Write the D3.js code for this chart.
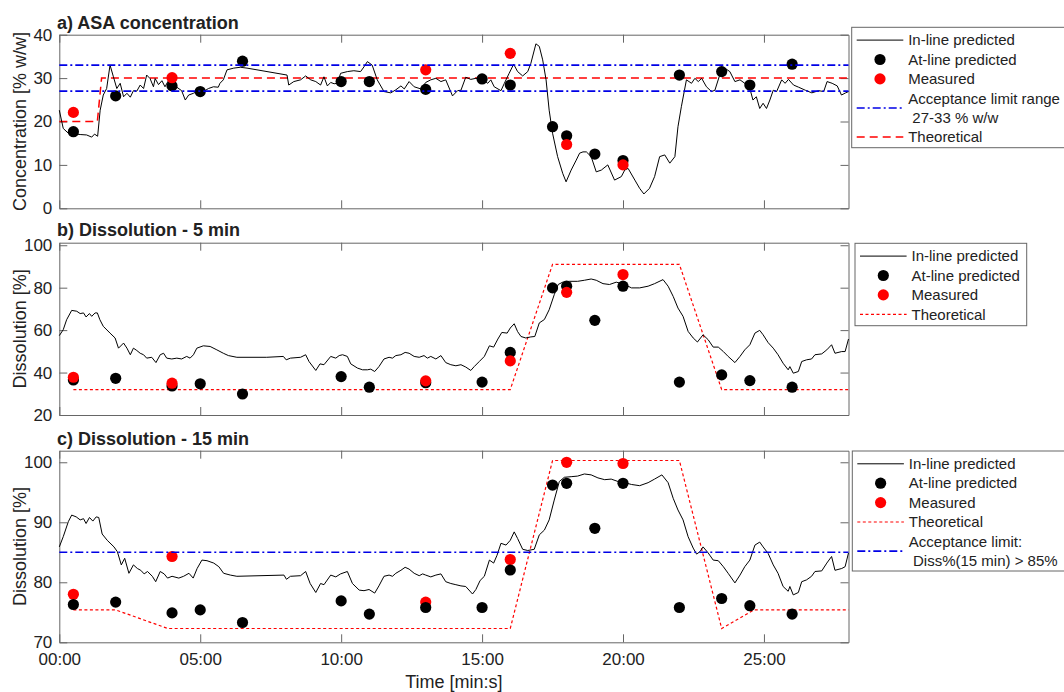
<!DOCTYPE html>
<html>
<head>
<meta charset="utf-8">
<script src="https://cdn.jsdelivr.net/npm/d3@7"></script>
<style>
  body { margin: 0; background: #fff; }
  svg text { font-family: "Liberation Sans", Arial, sans-serif; fill: #222; white-space: pre; }
</style>
</head>
<body>
<svg id="chart" width="1064" height="692"></svg>
<script>
// ---- time axis (minutes) ----
const timeTicks = [0, 5, 10, 15, 20, 25];

// sampling times of the at-line predictions and of the reference measurements (min)
const atTimes   = [0.5, 2, 4, 5, 6.5, 10, 11, 13, 15, 16, 17.5, 18, 19, 20, 22, 23.5, 24.5, 26];
const measTimes = [0.5, 4, 13, 16, 18, 20];

// ---- a) ASA concentration [% w/w] ----
const inlineA = [[0,22.6],[0.14,18.4],[0.32,17.3],[0.74,17.0],[0.97,16.9],[1.15,16.4],[1.25,17.1],[1.36,16.6],[1.45,22.6],[1.56,26.1],[1.68,27.6],[1.8,33.0],[1.92,30.3],[2.04,27.6],[2.16,28.8],[2.28,25.7],[2.4,26.5],[2.52,25.6],[2.63,27.1],[2.75,27.0],[2.87,28.4],[2.99,27.6],[3.1,30.7],[3.22,29.9],[3.34,28.0],[3.4,29.9],[3.52,28.5],[3.64,29.4],[3.75,28.0],[3.87,29.4],[3.99,28.8],[4.17,27.9],[4.34,27.1],[4.47,24.95],[4.59,26.1],[4.76,26.5],[4.88,26.9],[5.0,26.9],[5.17,27.1],[5.29,27.6],[5.47,28.0],[5.64,27.9],[5.7,28.8],[5.82,29.6],[5.95,31.9],[6.19,32.3],[6.42,32.5],[6.66,32.3],[8.08,30.7],[8.14,28.4],[8.32,29.2],[8.56,29.6],[8.74,30.5],[8.92,29.6],[9.1,29.2],[9.27,28.4],[9.39,30.3],[9.51,28.2],[9.63,29.0],[9.75,28.7],[9.87,28.8],[9.98,31.1],[10.22,31.5],[10.45,31.7],[10.69,31.5],[10.81,32.6],[10.93,33.8],[11.1,33.0],[11.28,29.6],[11.52,26.9],[11.76,26.6],[11.94,27.3],[12.12,28.2],[12.24,27.5],[12.41,29.2],[12.59,28.0],[12.83,27.5],[13.0,29.0],[13.18,29.6],[13.36,29.95],[13.54,29.2],[13.71,29.6],[13.95,25.9],[14.13,27.1],[14.25,27.2],[14.42,30.2],[14.6,29.7],[14.78,29.95],[15.02,29.7],[15.2,28.8],[15.31,29.6],[15.43,28.0],[15.67,27.1],[15.79,28.8],[15.96,31.1],[16.12,33.2],[16.26,31.5],[16.44,30.5],[16.62,31.5],[16.73,33.4],[16.91,37.9],[17.03,37.3],[17.15,34.2],[17.27,29.6],[17.38,22.6],[17.5,17.3],[17.68,11.9],[17.86,8.06],[17.98,6.1],[18.16,8.8],[18.34,11.1],[18.46,12.7],[18.58,13.0],[18.7,13.0],[18.87,11.9],[19.05,8.4],[19.23,8.8],[19.46,10.0],[19.7,6.5],[19.94,7.3],[20.06,8.8],[20.18,9.2],[20.42,6.5],[20.59,4.6],[20.74,3.3],[20.94,4.6],[21.12,7.3],[21.3,11.9],[21.48,12.3],[21.66,10.4],[21.84,11.9],[21.95,18.8],[22.07,23.4],[22.25,29.6],[22.43,28.8],[22.55,29.95],[22.67,29.2],[22.79,29.95],[22.96,28.0],[23.14,26.9],[23.26,27.2],[23.43,30.7],[23.61,32.3],[23.79,31.5],[23.97,29.2],[24.15,29.6],[24.32,28.8],[24.5,27.6],[24.61,24.95],[24.73,25.7],[24.85,23.0],[24.97,24.2],[25.09,23.0],[25.21,24.95],[25.33,27.2],[25.45,26.9],[25.63,29.6],[25.75,28.8],[25.87,29.7],[26.05,28.4],[26.23,27.9],[26.47,27.2],[26.7,26.6],[26.94,27.1],[27.12,26.9],[27.24,29.2],[27.42,28.8],[27.6,28.2],[27.75,26.1],[27.9,26.6],[28.0,26.9]];
const atA   = [17.65, 25.9, 28.2, 26.9, 33.9, 29.2, 29.2, 27.4, 29.8, 28.4, 18.8, 16.7, 12.5, 11.0, 30.7, 31.5, 28.4, 33.2];
const measA = [22.1, 30.1, 31.9, 35.7, 14.7, 10.0];
const theoA = [[0,20],[1.35,20],[1.5,30],[28,30]];
const limitsA = [27, 33];

// ---- b) Dissolution after 5 min [%] ----
const inlineB = [[0,57.4],[0.14,60.2],[0.26,64.9],[0.44,69.3],[0.62,68.9],[0.74,67.8],[0.86,68.1],[0.95,66.2],[1.07,67.8],[1.15,66.5],[1.27,68.1],[1.35,68.1],[1.44,64.9],[1.56,61.8],[1.8,58.6],[1.98,56.3],[2.1,51.5],[2.28,53.9],[2.4,51.5],[2.52,48.4],[2.63,51.5],[2.75,50.4],[2.87,49.1],[2.99,48.4],[3.1,46.8],[3.28,47.2],[3.43,44.7],[3.58,48.4],[3.7,49.1],[3.81,46.8],[3.99,46.4],[4.17,46.8],[4.34,46.4],[4.52,47.6],[4.64,46.8],[4.76,48.4],[4.88,51.5],[5.11,52.6],[5.35,52.3],[5.59,50.7],[5.82,49.1],[6.0,48.0],[6.3,47.2],[7.36,47.2],[7.95,47.6],[8.05,46.0],[8.2,46.8],[8.56,47.2],[8.74,48.4],[8.86,45.2],[9.1,41.0],[9.25,44.1],[9.39,43.7],[9.63,47.6],[9.81,46.8],[9.93,48.0],[10.05,48.4],[10.22,47.6],[10.34,44.1],[10.58,42.1],[10.76,41.3],[10.93,41.3],[11.05,41.6],[11.19,40.5],[11.34,42.8],[11.52,46.4],[11.7,47.2],[11.82,46.8],[11.94,48.0],[12.12,48.4],[12.27,49.5],[12.41,49.1],[12.59,47.6],[12.77,47.2],[12.94,48.0],[13.06,46.8],[13.18,47.6],[13.36,46.4],[13.54,48.0],[13.71,44.7],[13.89,43.7],[14.07,43.2],[14.25,43.7],[14.42,42.6],[14.6,41.0],[14.72,42.8],[14.9,45.2],[15.08,47.6],[15.26,52.6],[15.41,52.0],[15.56,55.8],[15.7,58.9],[15.89,58.6],[16.0,61.0],[16.14,63.0],[16.26,59.3],[16.38,57.0],[16.55,56.3],[16.73,56.8],[16.87,57.0],[17.03,63.4],[17.21,65.0],[17.38,69.6],[17.56,76.7],[17.7,81.5],[17.86,82.6],[18.1,83.0],[18.39,83.0],[18.63,83.5],[18.87,84.1],[19.05,83.5],[19.29,81.9],[19.52,81.5],[19.76,82.6],[20.06,81.5],[20.3,79.9],[20.59,79.9],[20.89,80.7],[21.12,81.9],[21.42,83.8],[21.6,80.7],[21.78,75.9],[21.95,70.4],[22.13,66.5],[22.31,59.4],[22.49,56.3],[22.64,54.4],[22.84,57.8],[23.02,55.5],[23.2,52.0],[23.38,52.0],[23.56,49.9],[23.73,47.6],[23.97,44.7],[24.15,47.6],[24.32,50.7],[24.5,53.1],[24.68,58.6],[24.85,59.9],[24.97,57.8],[25.15,54.1],[25.33,51.5],[25.5,48.4],[25.68,44.4],[25.86,41.3],[25.92,42.8],[26.04,39.7],[26.22,40.5],[26.34,45.2],[26.51,46.0],[26.69,46.4],[26.81,48.4],[27.05,48.8],[27.23,50.7],[27.4,53.1],[27.52,49.1],[27.76,49.9],[27.88,49.9],[28.0,55.8]];
const atB   = [36.5, 37.3, 33.7, 34.7, 29.9, 38.1, 33.1, 35.2, 35.5, 49.5, 79.9, 80.7, 64.6, 80.7, 35.5, 38.9, 36.2, 33.1];
const measB = [37.8, 35.0, 36.1, 45.5, 77.8, 86.2];
const theoB = [[0.5,32],[16,32],[17.5,91],[22,91],[23.5,32],[28,32]];

// ---- c) Dissolution after 15 min [%] ----
const inlineC = [[0,85.9],[0.14,87.6],[0.32,90.1],[0.44,91.2],[0.6,90.9],[0.74,90.4],[0.86,90.6],[0.95,89.8],[1.07,90.8],[1.19,90.2],[1.31,90.9],[1.4,90.8],[1.52,88.05],[1.7,87.0],[1.94,85.9],[2.06,85.1],[2.2,82.9],[2.32,84.0],[2.47,81.5],[2.63,82.9],[2.77,82.3],[2.89,82.0],[3.01,81.4],[3.13,81.8],[3.3,81.0],[3.42,80.1],[3.58,81.8],[3.72,81.4],[3.84,80.7],[4.0,81.0],[4.24,80.7],[4.41,81.0],[4.6,81.5],[4.75,80.7],[4.89,82.3],[5.06,83.7],[5.24,83.6],[5.48,83.2],[5.66,82.6],[5.83,81.5],[6.07,81.2],[6.3,81.0],[7.97,81.2],[8.06,80.5],[8.2,81.0],[8.56,81.1],[8.74,81.8],[8.9,79.8],[9.1,78.3],[9.27,79.8],[9.39,79.6],[9.63,81.2],[9.81,80.9],[9.98,81.4],[10.22,81.8],[10.4,79.8],[10.64,78.7],[10.81,78.6],[10.99,78.8],[11.19,78.2],[11.34,79.4],[11.52,81.0],[11.7,81.2],[11.82,81.0],[11.94,81.5],[12.12,82.0],[12.27,82.5],[12.41,82.2],[12.59,81.5],[12.77,81.1],[12.89,81.4],[13.0,81.2],[13.18,80.9],[13.36,81.2],[13.54,81.4],[13.71,80.1],[13.89,79.8],[14.07,79.6],[14.25,79.4],[14.42,79.3],[14.66,78.05],[14.78,78.8],[14.93,80.3],[15.08,81.0],[15.26,83.7],[15.41,83.2],[15.53,84.5],[15.67,86.5],[15.85,86.2],[16.0,87.0],[16.14,88.4],[16.26,87.3],[16.44,85.5],[16.62,85.3],[16.85,85.5],[17.03,87.9],[17.21,88.7],[17.38,90.4],[17.56,93.7],[17.74,96.8],[17.92,97.5],[18.16,97.6],[18.39,97.7],[18.63,98.05],[18.87,97.9],[19.11,97.4],[19.35,97.1],[19.58,97.2],[19.82,96.8],[20.06,96.6],[20.3,96.3],[20.59,96.1],[20.89,96.6],[21.12,97.2],[21.38,97.9],[21.6,96.6],[21.78,94.0],[21.95,92.05],[22.13,90.4],[22.31,87.6],[22.49,85.7],[22.61,84.7],[22.73,85.1],[22.84,85.9],[23.02,84.9],[23.2,83.7],[23.38,83.6],[23.56,82.6],[23.73,81.5],[23.97,79.9],[24.15,81.2],[24.32,82.6],[24.5,83.7],[24.68,86.2],[24.85,86.7],[24.97,85.9],[25.15,84.8],[25.33,82.9],[25.5,81.5],[25.68,79.3],[25.86,78.5],[25.92,79.3],[26.04,77.9],[26.22,78.3],[26.34,80.1],[26.51,80.4],[26.69,81.0],[26.81,81.8],[27.05,81.9],[27.23,83.2],[27.4,84.3],[27.52,82.0],[27.76,82.3],[27.88,82.6],[28.0,84.9]];
const atC   = [76.3, 76.7, 74.9, 75.4, 73.3, 76.9, 74.7, 75.8, 75.8, 82.05, 96.2, 96.5, 89.0, 96.5, 75.8, 77.3, 76.1, 74.7];
const measC = [78.0, 84.3, 76.7, 83.8, 100.0, 99.8];
const theoC = [[0.5,75.4],[2,75.4],[3.85,72.3],[16,72.3],[17.5,100.3],[22,100.3],[23.5,72.3],[24.65,75.4],[28,75.4]];
const limitsC = [85];

// ---- styles ----
const COL_BLUE = "#0000e6", COL_RED = "#ff0000", COL_AXIS = "#666";
const styleLimit = { stroke: COL_BLUE, width: 1.6, dash: "8,3,2,3" };
const styleTheoA = { stroke: COL_RED, width: 1.5, dash: "8,5" };
const styleTheoBC = { stroke: COL_RED, width: 1.2, dash: "3,2.5" };
const DOT_R = 5.6;

const svg = d3.select("#chart");
const x = d3.scaleLinear().domain([0, 28]).range([59.3, 848.5]);
const fmtTime = m => {
  const mm = Math.floor(m), ss = Math.round((m - mm) * 60);
  return String(mm).padStart(2, "0") + ":" + String(ss).padStart(2, "0");
};

const panels = [
  { title: "a) ASA concentration", ylabel: "Concentration [% w/w]", domain: [0, 40], range: [208.3, 34.7],
    yticks: [0, 10, 20, 30, 40], inline: inlineA, at: atA, meas: measA, theo: theoA, theoStyle: styleTheoA,
    limits: limitsA, redOnTop: true, titleY: 28.5,
    legend: { x: 851.7, y: 27.3, w: 230, h: 120.4, items: [
      { type: "line", label: ["In-line predicted"] },
      { type: "dot", color: "#000", label: ["At-line predicted"] },
      { type: "dot", color: COL_RED, label: ["Measured"] },
      { type: "limit", label: ["Acceptance limit range", " 27-33 % w/w"] },
      { type: "theo", label: ["Theoretical"] } ] } },
  { title: "b) Dissolution - 5 min", ylabel: "Dissolution [%]", domain: [20, 101.2], range: [415, 242.7],
    yticks: [20, 40, 60, 80, 100], inline: inlineB, at: atB, meas: measB, theo: theoB, theoStyle: styleTheoBC,
    limits: [], redOnTop: true, titleY: 236.3,
    legend: { x: 855, y: 243.3, w: 171.7, h: 82.4, items: [
      { type: "line", label: ["In-line predicted"] },
      { type: "dot", color: "#000", label: ["At-line predicted"] },
      { type: "dot", color: COL_RED, label: ["Measured"] },
      { type: "theo", label: ["Theoretical"] } ] } },
  { title: "c) Dissolution - 15 min", ylabel: "Dissolution [%]", domain: [70, 101.93], range: [642.3, 450.7],
    yticks: [70, 80, 90, 100], inline: inlineC, at: atC, meas: measC, theo: theoC, theoStyle: styleTheoBC,
    limits: limitsC, redOnTop: false, titleY: 445, xlabels: true,
    legend: { x: 852.3, y: 451, w: 230, h: 120, items: [
      { type: "line", label: ["In-line predicted"] },
      { type: "dot", color: "#000", label: ["At-line predicted"] },
      { type: "dot", color: COL_RED, label: ["Measured"] },
      { type: "theo", label: ["Theoretical"] },
      { type: "limit", label: ["Acceptance limit:", " Diss%(15 min) > 85%"] } ] } }
];

function styled(sel, st) {
  return sel.attr("fill", "none").attr("stroke", st.stroke).attr("stroke-width", st.width)
            .attr("stroke-dasharray", st.dash);
}

panels.forEach(p => {
  const y = d3.scaleLinear().domain(p.domain).range(p.range);
  const [x0, x1] = x.range();
  const [yb, yt] = y.range();
  const g = svg.append("g");

  // axes with inward ticks on all four sides
  const styleAxis = a => {
    a.select(".domain").attr("stroke", COL_AXIS);
    a.selectAll(".tick line").attr("stroke", COL_AXIS);
    a.selectAll("text").attr("fill", "#222").style("font-size", "17px")
      .style("font-family", '"Liberation Sans", Arial, sans-serif');
  };
  g.append("g").attr("transform", `translate(${x0},0)`)
    .call(d3.axisLeft(y).tickValues(p.yticks).tickSize(-8).tickSizeOuter(0).tickPadding(7)).call(styleAxis);
  g.append("g").attr("transform", `translate(${x1},0)`)
    .call(d3.axisRight(y).tickValues(p.yticks).tickSize(-8).tickSizeOuter(0).tickFormat("")).call(styleAxis);
  g.append("g").attr("transform", `translate(0,${yt})`)
    .call(d3.axisTop(x).tickValues(timeTicks).tickSize(-8).tickSizeOuter(0).tickFormat("")).call(styleAxis);
  g.append("g").attr("transform", `translate(0,${yb})`)
    .call(d3.axisBottom(x).tickValues(timeTicks).tickSize(-8).tickSizeOuter(0).tickPadding(11)
      .tickFormat(p.xlabels ? fmtTime : "")).call(styleAxis);

  // title and y label
  g.append("text").attr("x", 57).attr("y", p.titleY).style("font-size", "18px")
    .style("font-weight", "bold").text(p.title);
  g.append("text").attr("transform", `translate(26,${(yb + yt) / 2}) rotate(-90)`)
    .attr("text-anchor", "middle").style("font-size", "18px").text(p.ylabel);

  const line = d3.line().x(d => x(d[0])).y(d => y(d[1]));

  // theoretical profile
  styled(g.append("path").attr("d", line(p.theo)), p.theoStyle);

  // in-line prediction
  g.append("path").attr("d", line(p.inline)).attr("fill", "none")
    .attr("stroke", "#000").attr("stroke-width", 1).attr("stroke-linejoin", "round");

  // at-line predictions and measurements
  const drawDots = (vals, times, color) =>
    g.append("g").selectAll("circle").data(vals).join("circle")
      .attr("cx", (d, i) => x(times[i])).attr("cy", d => y(d)).attr("r", DOT_R).attr("fill", color);
  if (p.redOnTop) { drawDots(p.at, atTimes, "#000"); drawDots(p.meas, measTimes, COL_RED); }
  else { drawDots(p.meas, measTimes, COL_RED); drawDots(p.at, atTimes, "#000"); }

  // acceptance limits
  p.limits.forEach(v => {
    styled(g.append("line").attr("x1", x0).attr("x2", x1).attr("y1", y(v)).attr("y2", y(v)), styleLimit);
  });

  // legend
  const L = p.legend;
  const lg = svg.append("g");
  lg.append("rect").attr("x", L.x).attr("y", L.y).attr("width", L.w).attr("height", L.h)
    .attr("fill", "#fff").attr("stroke", COL_AXIS).attr("stroke-width", 1);
  const step = 19.4;
  let row = 0;
  L.items.forEach(it => {
    const cy0 = L.y + 12.8 + row * step;
    const cy = cy0 + (it.label.length - 1) * step / 2;
    const sx0 = L.x + 5, sx1 = L.x + 51.6, mx = L.x + 28.3;
    if (it.type === "dot") {
      lg.append("circle").attr("cx", mx).attr("cy", cy).attr("r", DOT_R).attr("fill", it.color);
    } else {
      const ln = lg.append("line").attr("x1", sx0).attr("x2", sx1).attr("y1", cy).attr("y2", cy);
      if (it.type === "line") ln.attr("stroke", "#000").attr("stroke-width", 1);
      else if (it.type === "limit") styled(ln, styleLimit);
      else styled(ln, p.theoStyle);
    }
    it.label.forEach((t, k) => {
      lg.append("text").attr("x", L.x + 56.5).attr("y", cy0 + k * step).attr("dy", "0.35em")
        .style("font-size", "15px").text(t);
    });
    row += it.label.length;
  });
});

// shared time label
svg.append("text").attr("x", (x.range()[0] + x.range()[1]) / 2).attr("y", 688)
  .attr("text-anchor", "middle").style("font-size", "18px").text("Time [min:s]");
</script>
</body>
</html>
